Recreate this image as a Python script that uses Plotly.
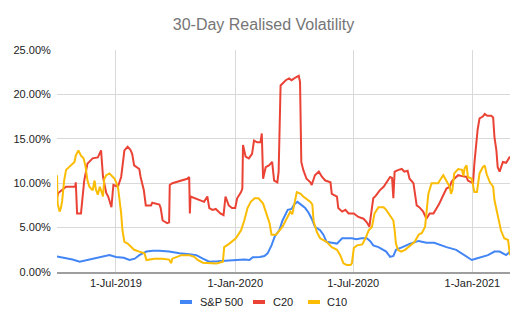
import plotly.graph_objects as go

# ---------------- data (values in %) ----------------
sp_dates = ["2019-04-01","2019-04-14","2019-04-25","2019-05-06","2019-05-21","2019-06-06","2019-06-21",
            "2019-07-01","2019-07-13","2019-07-22","2019-07-30","2019-08-06","2019-08-17","2019-08-27",
            "2019-09-06","2019-09-21","2019-10-07","2019-10-22","2019-11-02","2019-11-12","2019-11-22",
            "2019-12-05","2019-12-18","2020-01-02","2020-01-15","2020-01-23","2020-01-28","2020-02-08",
            "2020-02-15","2020-02-20","2020-02-26","2020-03-02","2020-03-09","2020-03-14","2020-03-22",
            "2020-03-28","2020-04-01","2020-04-06","2020-04-12","2020-04-18","2020-04-23","2020-04-28",
            "2020-05-03","2020-05-11","2020-05-16","2020-05-21","2020-05-29","2020-06-06","2020-06-14",
            "2020-06-21","2020-06-29","2020-07-06","2020-07-14","2020-07-22","2020-07-27","2020-08-01",
            "2020-08-09","2020-08-21","2020-08-27","2020-09-01","2020-09-05","2020-09-15","2020-09-27",
            "2020-10-10","2020-10-22","2020-11-03","2020-11-22","2020-12-07","2020-12-20","2020-12-31",
            "2021-01-06","2021-01-15","2021-01-25","2021-02-04","2021-02-12","2021-02-22","2021-02-28"]
sp_vals = [1.75,1.6,1.4,1.16,1.4,1.65,1.9,
           1.7,1.6,1.35,1.5,1.9,2.3,2.4,
           2.4,2.3,2.1,2.0,1.9,1.5,1.16,
           1.2,1.27,1.35,1.4,1.35,1.65,1.7,
           1.8,2.1,3.0,4.0,4.7,5.8,7.0,
           7.1,7.6,7.9,7.5,7.2,6.7,6.0,
           5.1,4.7,4.2,3.4,3.3,3.2,3.8,
           3.8,3.8,3.7,3.8,3.8,3.5,3.0,
           2.8,2.3,1.7,1.8,2.5,2.8,3.2,
           3.5,3.3,3.3,2.8,2.5,1.9,1.35,
           1.5,1.7,1.9,2.3,2.3,1.9,2.3]

c20_dates = ["2019-04-01","2019-04-03","2019-04-15","2019-04-29","2019-04-30","2019-05-02","2019-05-08",
             "2019-05-13","2019-05-18","2019-05-26","2019-06-03","2019-06-08","2019-06-11","2019-06-16",
             "2019-06-19","2019-06-24","2019-06-27","2019-07-04","2019-07-09","2019-07-14","2019-07-19",
             "2019-07-23","2019-07-26","2019-07-29","2019-08-06","2019-08-08","2019-08-13","2019-08-16",
             "2019-08-24","2019-08-26","2019-09-06","2019-09-08","2019-09-11","2019-09-18","2019-09-21",
             "2019-09-22","2019-09-26","2019-10-12","2019-10-19","2019-10-22","2019-10-23","2019-10-24",
             "2019-11-06","2019-11-14","2019-11-19","2019-11-22","2019-11-27","2019-12-02","2019-12-09",
             "2019-12-14","2019-12-17","2019-12-22","2019-12-27","2020-01-01","2020-01-04","2020-01-10",
             "2020-01-12","2020-01-13","2020-01-17","2020-01-22","2020-01-27","2020-01-30","2020-02-04",
             "2020-02-09","2020-02-11","2020-02-13","2020-02-17","2020-02-22","2020-02-27","2020-03-01",
             "2020-03-06","2020-03-08","2020-03-11","2020-03-14","2020-03-19","2020-03-24","2020-03-28",
             "2020-04-03","2020-04-08","2020-04-10","2020-04-12","2020-04-15","2020-04-20","2020-04-26",
             "2020-04-28","2020-05-03","2020-05-09","2020-05-14","2020-05-19","2020-05-27","2020-05-29",
             "2020-06-06","2020-06-08","2020-06-14","2020-06-19","2020-06-24","2020-07-02","2020-07-09",
             "2020-07-17","2020-07-22","2020-07-26","2020-08-01","2020-08-05","2020-08-11","2020-08-17",
             "2020-08-27","2020-08-30","2020-09-01","2020-09-03","2020-09-09","2020-09-14","2020-09-18",
             "2020-09-23","2020-09-26","2020-10-02","2020-10-07","2020-10-11","2020-10-17","2020-10-22",
             "2020-10-27","2020-11-02","2020-11-07","2020-11-11","2020-11-16","2020-11-22","2020-11-27",
             "2020-11-30","2020-12-04","2020-12-10","2020-12-16","2020-12-23","2020-12-25","2020-12-31",
             "2021-01-02","2021-01-04","2021-01-07","2021-01-09","2021-01-12","2021-01-17","2021-01-20",
             "2021-01-24","2021-01-30","2021-02-02","2021-02-04","2021-02-07","2021-02-09","2021-02-12",
             "2021-02-17","2021-02-22","2021-02-28"]
c20_vals = [8.4,8.9,9.6,9.6,10.1,6.6,6.6,
            10.3,12.2,12.8,12.9,13.7,10.7,8.9,
            8.5,7.3,9.8,9.6,10.7,13.7,14.1,
            13.8,13.3,12.0,11.6,10.7,9.2,7.5,
            7.5,7.8,7.6,7.2,5.8,5.5,5.6,
            9.8,10.0,10.3,10.5,10.7,6.6,8.5,
            8.1,7.9,8.5,7.2,7.0,7.1,6.6,
            6.4,8.5,7.5,7.2,7.2,8.3,9.0,
            9.4,14.3,13.0,12.8,13.3,14.8,14.6,
            14.6,15.6,10.5,11.8,12.0,12.4,10.3,
            10.1,11.3,21.0,21.2,21.6,21.8,21.6,
            21.9,22.1,21.4,12.4,11.5,10.5,10.1,
            9.8,10.9,11.3,10.7,10.3,10.1,8.8,
            8.5,7.2,6.8,7.0,6.6,6.6,6.2,
            6.0,5.6,5.1,8.3,8.6,9.2,9.6,
            10.7,10.6,8.3,11.3,11.5,11.6,11.3,
            11.4,10.5,10.0,7.5,7.3,6.8,6.0,
            6.6,6.6,7.2,7.7,8.5,9.4,9.6,
            10.2,10.5,10.9,10.8,10.7,10.3,10.0,
            10.0,12.2,14.8,16.0,17.3,17.5,17.8,
            17.6,17.6,17.4,15.2,13.7,11.8,11.3,
            12.4,12.3,13.0]

c10_dates = ["2019-04-01","2019-04-02","2019-04-05","2019-04-07","2019-04-09","2019-04-12","2019-04-15",
             "2019-04-23","2019-04-28","2019-04-30","2019-05-04","2019-05-08","2019-05-12","2019-05-15",
             "2019-05-18","2019-05-21","2019-05-26","2019-05-29","2019-05-31","2019-06-03","2019-06-06",
             "2019-06-08","2019-06-11","2019-06-13","2019-06-16","2019-06-21","2019-06-26","2019-06-29",
             "2019-07-04","2019-07-06","2019-07-09","2019-07-11","2019-07-14","2019-07-19","2019-07-24",
             "2019-07-29","2019-08-06","2019-08-14","2019-08-17","2019-08-29","2019-09-11","2019-09-21",
             "2019-09-24","2019-09-26","2019-10-10","2019-10-22","2019-10-30","2019-11-04","2019-11-12",
             "2019-11-22","2019-12-03","2019-12-13","2019-12-15","2019-12-23","2020-01-02","2020-01-10",
             "2020-01-15","2020-01-20","2020-01-25","2020-01-31","2020-02-06","2020-02-13","2020-02-18",
             "2020-02-23","2020-02-26","2020-03-04","2020-03-14","2020-03-22","2020-03-26","2020-03-29",
             "2020-04-01","2020-04-05","2020-04-11","2020-04-15","2020-04-26","2020-04-29","2020-05-01",
             "2020-05-06","2020-05-11","2020-05-21","2020-05-29","2020-06-06","2020-06-11","2020-06-16",
             "2020-06-21","2020-06-27","2020-06-29","2020-07-02","2020-07-07","2020-07-15","2020-07-20",
             "2020-07-25","2020-07-30","2020-08-03","2020-08-09","2020-08-17","2020-08-21","2020-08-27",
             "2020-09-01","2020-09-03","2020-09-05","2020-09-08","2020-09-13","2020-09-19","2020-09-24",
             "2020-10-04","2020-10-10","2020-10-15","2020-10-20","2020-10-22","2020-10-25","2020-10-30",
             "2020-11-09","2020-11-17","2020-11-22","2020-11-27","2020-11-29","2020-12-01","2020-12-04",
             "2020-12-10","2020-12-16","2020-12-18","2020-12-20","2020-12-23","2020-12-25","2020-12-31",
             "2021-01-04","2021-01-08","2021-01-12","2021-01-17","2021-01-20","2021-01-23","2021-01-28",
             "2021-02-02","2021-02-04","2021-02-09","2021-02-14","2021-02-19","2021-02-25","2021-02-28"]
c10_vals = [10.9,7.7,6.8,7.2,8.0,10.3,11.5,
            12.0,12.4,13.1,13.7,13.1,12.8,11.9,
            10.3,9.6,9.2,10.3,9.3,8.7,9.6,
            9.2,8.5,10.5,10.9,11.1,10.7,10.5,
            9.6,8.5,6.6,4.7,3.4,3.2,2.8,
            2.5,2.3,2.1,1.35,1.5,1.5,1.4,
            1.0,1.5,1.9,1.9,1.7,1.35,1.05,
            1.0,0.97,1.16,2.8,3.2,3.8,4.7,
            5.8,7.2,7.9,8.3,8.3,7.7,6.6,
            5.5,4.2,4.2,5.1,6.2,6.8,6.5,
            7.7,9.0,8.8,8.5,7.9,7.6,5.7,
            4.5,3.8,3.4,2.8,2.5,1.9,0.97,
            0.79,0.8,0.97,2.7,3.0,3.1,3.8,
            4.7,5.1,6.6,7.3,7.3,7.0,6.4,
            5.8,4.7,3.2,2.5,2.3,2.5,2.8,
            3.4,4.2,4.4,5.1,6.6,8.8,10.0,
            10.0,10.9,10.3,9.6,8.8,9.2,11.1,
            11.6,11.5,10.8,11.7,12.0,10.7,10.5,
            9.0,9.0,11.1,11.8,12.0,11.0,10.1,
            9.6,8.1,6.2,4.7,3.8,3.6,1.9]

y_tick_vals = [0, 5, 10, 15, 20, 25]
y_tick_text = ["0.00%", "5.00%", "10.00%", "15.00%", "20.00%", "25.00%"]

series = [
    ("S&P 500", sp_dates, sp_vals, "#4285F4"),
    ("C20", c20_dates, c20_vals, "#EA4335"),
    ("C10", c10_dates, c10_vals, "#FBBC04"),
]

FONT = "Liberation Sans, Arial, sans-serif"

# geometry (pixels) for the hand-made legend
W, H = 527, 325
ML, MR, MT, MB = 57, 17, 50, 53
PW, PH = W - ML - MR, H - MT - MB
legend_y_px = 302
legend_items_px = [(180, 192, 198), (253, 265, 271), (308, 320, 325)]  # line x0, x1, text x


def px_x(px):
    return (px - ML) / PW


def px_y(py):
    return (H - MB - py) / PH


fig = go.Figure()
for name, xs, ys, col in series:
    fig.add_trace(go.Scatter(x=xs, y=ys, name=name, mode="lines",
                             line=dict(color=col, width=2)))

shapes, annotations = [], []
for (name, _, _, col), (x0, x1, tx) in zip(series, legend_items_px):
    shapes.append(dict(type="line", xref="paper", yref="paper",
                       x0=px_x(x0), x1=px_x(x1), y0=px_y(legend_y_px), y1=px_y(legend_y_px),
                       line=dict(color=col, width=4)))
    annotations.append(dict(text=name, xref="paper", yref="paper", x=px_x(tx), y=px_y(legend_y_px),
                            xanchor="left", yanchor="middle", showarrow=False,
                            font=dict(family=FONT, size=11, color="#222222")))

fig.update_layout(
    width=W, height=H,
    margin=dict(l=ML, r=MR, t=MT, b=MB),
    paper_bgcolor="white", plot_bgcolor="white",
    font=dict(family=FONT, size=11, color="#222222"),
    title=dict(text="30-Day Realised Volatility", x=0.5, xanchor="center",
               y=1 - 24 / H, yanchor="middle",
               font=dict(family=FONT, size=16, color="#757575")),
    showlegend=False,
    shapes=shapes,
    annotations=annotations,
    xaxis=dict(range=["2019-04-01", "2021-02-28"], tickmode="linear",
               tick0="2019-07-01", dtick="M6", tickformat="%-d-%b-%Y",
               showgrid=True, gridcolor="#d9d9d9", gridwidth=1,
               showline=True, linecolor="#9e9e9e", linewidth=2,
               ticks="", zeroline=False),
    yaxis=dict(range=[0, 25], tickvals=y_tick_vals, ticktext=y_tick_text,
               showgrid=True, gridcolor="#d9d9d9", gridwidth=1,
               showline=False, zeroline=False,
               ticks="outside", ticklen=3, tickcolor="rgba(0,0,0,0)"),
)

fig.write_html("out.html")
